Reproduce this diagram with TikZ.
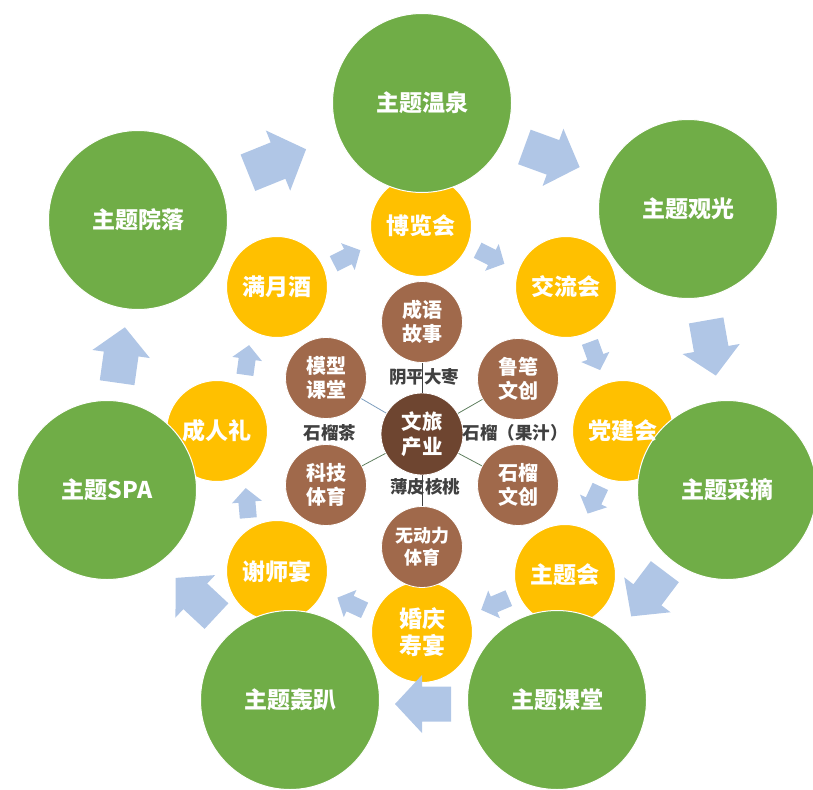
\documentclass[tikz,border=0pt]{standalone}
\usepackage{fontspec}
\newfontfamily\cjk{Noto Sans CJK SC}
\definecolor{cgreen}{HTML}{70AD47}
\definecolor{cyellow}{HTML}{FFC000}
\definecolor{cbrown}{HTML}{A0694B}
\definecolor{cdark}{HTML}{6E4530}
\definecolor{ablue}{HTML}{B0C6E6}
\definecolor{cgray}{HTML}{404040}
\definecolor{lblue}{HTML}{7F9FBF}
\definecolor{lgreen}{HTML}{5F7F5F}
\begin{document}
\begin{tikzpicture}[x=1pt,y=-1pt,
  gc/.style={circle, fill=cgreen, draw=white, line width=1pt, minimum size=179pt, inner sep=0pt, text=white, font=\cjk\bfseries\fontsize{23}{27}\selectfont, align=center},
  yc/.style={circle, fill=cyellow, draw=white, line width=1pt, minimum size=101pt, inner sep=0pt},
  yt/.style={text=white, font=\cjk\bfseries\fontsize{23}{27}\selectfont, align=center, inner sep=0pt},
  bc/.style={circle, fill=cbrown, draw=white, line width=0.8pt, minimum size=81pt, inner sep=0pt, text=white, font=\cjk\bfseries\fontsize{20}{24}\selectfont, align=center},
  cc/.style={circle, fill=cdark, draw=white, line width=0.8pt, minimum size=82pt, inner sep=0pt, text=white, font=\cjk\bfseries\fontsize{20.5}{25}\selectfont, align=center},
  lab/.style={text=cgray, font=\cjk\bfseries\fontsize{17.5}{20}\selectfont, inner sep=0pt},
  link/.style={line width=0.8pt},
  barrow/.pic={\fill[ablue] (-28,-17.5) -- (1,-17.5) -- (1,-29) -- (28,0) -- (1,29) -- (1,17.5) -- (-28,17.5) -- cycle;},
  sarrow/.pic={\fill[ablue] (-15,-8.5) -- (1,-8.5) -- (1,-15) -- (15,0) -- (1,15) -- (1,8.5) -- (-15,8.5) -- cycle;}
]
\useasboundingbox (0,0) rectangle (813,789);

% yellow circles
\node[yc] (y1) at (421,226) {};
\node[yc] (y2) at (566,287) {};
\node[yc] (y3) at (623,431) {};
\node[yc] (y4) at (565,575) {};
\node[yc] (y5) at (422,632) {};
\node[yc] (y6) at (277,571) {};
\node[yc] (y7) at (217,431) {};
\node[yc] (y8) at (277,287) {};

% green circles
\node[gc] (g1) at (422,103) {主题温泉};
\node[gc] (g2) at (688,209) {主题观光};
\node[gc] (g3) at (727,490) {主题采摘};
\node[gc] (g4) at (557,700) {主题课堂};
\node[gc] (g5) at (290,700) {主题轰趴};
\node[gc] (g6) at (107,490) {主题SPA};
\node[gc] (g7) at (138,220) {主题院落};

% yellow labels
\node[yt] (t1) at (y1) {博览会};
\node[yt] (t2) at (y2) {交流会};
\node[yt] (t3) at (y3) {党建会};
\node[yt] (t4) at (y4) {主题会};
\node[yt] (t5) at (y5) {婚庆\\寿宴};
\node[yt] (t6) at (y6) {谢师宴};
\node[yt] (t7) at (y7) {成人礼};
\node[yt] (t8) at (y8) {满月酒};

% big arrows
\pic[rotate=22, scale=1.12] at (277,161) {barrow};
\pic[rotate=-20, scale=1.05] at (552,157) {barrow};
\pic[rotate=-80] at (711,348) {barrow};
\pic[rotate=-127] at (648,594) {barrow};
\pic[rotate=180] at (423,704) {barrow};
\pic[rotate=137] at (196,597) {barrow};
\pic[rotate=82] at (121,355) {barrow};

% small arrows
\pic[rotate=27] at (347,257) {sarrow};
\pic[rotate=-27] at (491,257) {sarrow};
\pic[rotate=-70] at (595,356) {sarrow};
\pic[rotate=-115] at (594,500) {sarrow};
\pic[rotate=-157] at (495,604) {sarrow};
\pic[rotate=155] at (351,604) {sarrow};
\pic[rotate=95] at (247,503) {sarrow};
\pic[rotate=82] at (247,360) {sarrow};

% center and brown circles
\node[cc] (c) at (422,434) {文旅\\产业};
\node[bc] (b1) at (422,322) {成语\\故事};
\node[bc] (b2) at (518,379) {鲁笔\\文创};
\node[bc] (b3) at (518,485) {石榴\\文创};
\node[bc, font=\cjk\bfseries\fontsize{18}{22}\selectfont] (b4) at (422,547) {无动力\\体育};
\node[bc] (b5) at (326,485) {科技\\体育};
\node[bc] (b6) at (326,378) {模型\\课堂};

\draw[link, cgray] (c) -- (b1);
\draw[link, lgreen] (c) -- (b2);
\draw[link, lgreen] (c) -- (b3);
\draw[link, cgray] (c) -- (b4);
\draw[link, lgreen] (c) -- (b5);
\draw[link, lblue] (c) -- (b6);

\node[lab] (l1) at (424,377) {阴平大枣};
\node[lab] (l2) at (515,433) {石榴（果汁）};
\node[lab] (l3) at (425,487) {薄皮核桃};
\node[lab] (l4) at (330,433) {石榴茶};
\end{tikzpicture}
\end{document}
